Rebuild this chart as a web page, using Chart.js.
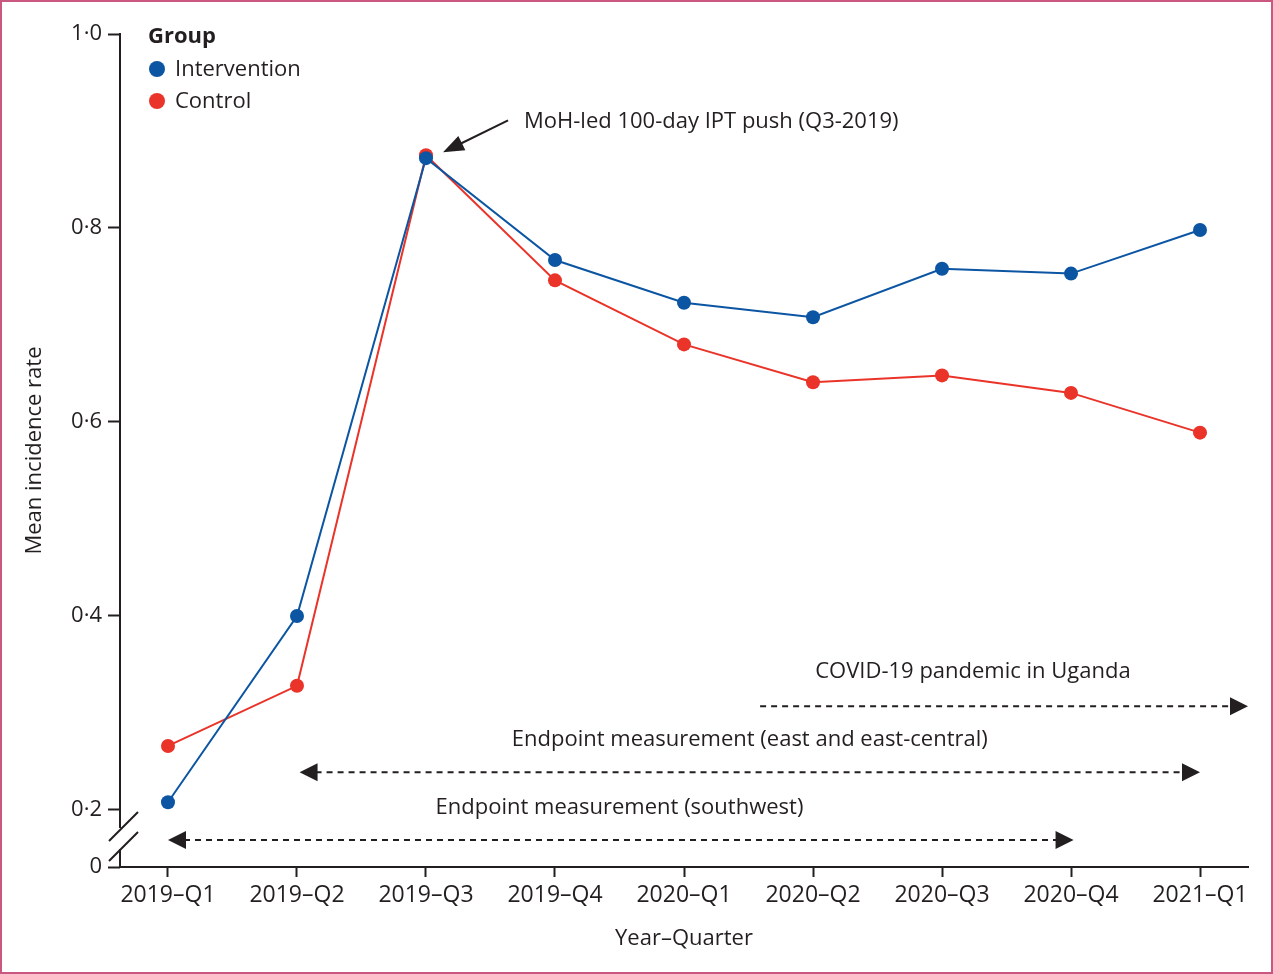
<!DOCTYPE html>
<html>
<head>
<meta charset="utf-8">
<script src="https://cdn.jsdelivr.net/npm/chart.js@4.4.1/dist/chart.umd.min.js"></script>
<style>
    html, body { margin: 0; padding: 0; background: #fff; }
    #wrap { position: relative; width: 1273px; height: 974px; }
    #wrap canvas { position: absolute; left: 0; top: 0; }
    #frame { position: absolute; inset: 0; border: 2px solid #c9577f; pointer-events: none; }
</style>
</head>
<body>
<div id="wrap">
    <canvas id="chart" width="1273" height="974"></canvas>
    <div id="frame"></div>
</div>
<script>
const quarters = ['2019–Q1', '2019–Q2', '2019–Q3', '2019–Q4', '2020–Q1', '2020–Q2', '2020–Q3', '2020–Q4', '2021–Q1'];
const intervention = [0.208, 0.400, 0.872, 0.767, 0.723, 0.708, 0.758, 0.753, 0.798];
const control = [0.266, 0.328, 0.875, 0.746, 0.680, 0.641, 0.648, 0.630, 0.589];
const yTicks = [0.2, 0.4, 0.6, 0.8, 1.0];

// axis is broken below 0.2; the bottom of the axis stands for 0
const Y_MIN = 0.1412;
const Y_MAX = 1.0;
const X_MIN = -0.372;
const X_MAX = 8.372;

// annotations, in data units (x = quarter index)
const spanArrows = [
    { from: 4.59, to: X_MAX, y: 0.307, startHead: false, endHead: true },
    { from: 1.02, to: 8.0, y: 0.239, startHead: true, endHead: true },
    { from: 0.0, to: 7.02, y: 0.169, startHead: true, endHead: true }
];
const spanLabels = [
    { text: 'COVID-19 pandemic in Uganda', x: 6.24, y: 0.342 },
    { text: 'Endpoint measurement (east and east-central)', x: 4.51, y: 0.272 },
    { text: 'Endpoint measurement (southwest)', x: 3.5, y: 0.202 }
];
const pushNote = { text: 'MoH-led 100-day IPT push (Q3-2019)', x: 2.76, y: 0.910, tailX: 2.636, tailY: 0.911, tipX: 2.132, tipY: 0.878 };

const INK = '#231f20';
const BLUE = '#0b55a3';
const RED = '#ea3329';
const FONT = '"Open Sans", sans-serif';

function fmt(v) {
    return v.toFixed(1).replace('.', '·');
}

function arrowHead(ctx, x, y, dir, len, half) {
    ctx.beginPath();
    ctx.moveTo(x, y);
    ctx.lineTo(x - dir * len, y - half);
    ctx.lineTo(x - dir * len, y + half);
    ctx.closePath();
    ctx.fill();
}

const extras = {
    id: 'extras',
    afterDraw(chart) {
        const ctx = chart.ctx;
        const xs = chart.scales.x;
        const ys = chart.scales.y;
        const area = chart.chartArea;
        ctx.save();
        ctx.strokeStyle = INK;
        ctx.fillStyle = INK;
        ctx.lineWidth = 2;

        // y axis with break
        const ax = area.left;
        const p02 = ys.getPixelForValue(0.2);
        ctx.beginPath();
        ctx.moveTo(ax, area.top - 1);
        ctx.lineTo(ax, p02 + 18);
        ctx.moveTo(ax, p02 + 39);
        ctx.lineTo(ax, area.bottom);
        ctx.stroke();
        ctx.beginPath();
        ctx.moveTo(ax - 11, p02 + 31);
        ctx.lineTo(ax + 18, p02 + 2);
        ctx.moveTo(ax - 11, p02 + 51);
        ctx.lineTo(ax + 18, p02 + 22);
        ctx.stroke();

        // dashed span arrows
        spanArrows.forEach(s => {
            const x1 = xs.getPixelForValue(s.from);
            const x2 = xs.getPixelForValue(s.to);
            const y = ys.getPixelForValue(s.y);
            ctx.setLineDash([6, 5]);
            ctx.beginPath();
            ctx.moveTo(x1 + (s.startHead ? 16 : 0), y);
            ctx.lineTo(x2 - (s.endHead ? 16 : 0), y);
            ctx.stroke();
            ctx.setLineDash([]);
            if (s.startHead) arrowHead(ctx, x1, y, -1, 18, 9);
            if (s.endHead) arrowHead(ctx, x2, y, 1, 18, 9);
        });

        ctx.font = '22px ' + FONT;
        ctx.textBaseline = 'middle';
        ctx.textAlign = 'center';
        spanLabels.forEach(l => {
            ctx.fillText(l.text, xs.getPixelForValue(l.x), ys.getPixelForValue(l.y));
        });

        // push annotation
        const tx = xs.getPixelForValue(pushNote.tailX), ty = ys.getPixelForValue(pushNote.tailY);
        const hx = xs.getPixelForValue(pushNote.tipX), hy = ys.getPixelForValue(pushNote.tipY);
        const ang = Math.atan2(hy - ty, hx - tx);
        ctx.beginPath();
        ctx.moveTo(tx, ty);
        ctx.lineTo(hx - Math.cos(ang) * 16, hy - Math.sin(ang) * 16);
        ctx.stroke();
        ctx.save();
        ctx.translate(hx, hy);
        ctx.rotate(ang);
        arrowHead(ctx, 0, 0, 1, 21, 8);
        ctx.restore();
        ctx.textAlign = 'left';
        ctx.fillText(pushNote.text, xs.getPixelForValue(pushNote.x), ys.getPixelForValue(pushNote.y));

        // legend
        const lx = area.left + 28;
        ctx.font = 'bold 22px ' + FONT;
        ctx.fillText('Group', lx, area.top + 3);
        ctx.font = '22px ' + FONT;
        chart.data.datasets.forEach((ds, i) => {
            const cy = area.top + 35 + i * 32;
            ctx.fillStyle = ds.backgroundColor;
            ctx.beginPath();
            ctx.arc(lx + 9, cy, 8, 0, Math.PI * 2);
            ctx.fill();
            ctx.fillStyle = INK;
            ctx.fillText(ds.label, lx + 27, cy + 1);
        });
        ctx.restore();
    }
};

new Chart(document.getElementById('chart'), {
    type: 'line',
    data: {
        datasets: [
            {
                label: 'Intervention',
                data: intervention.map((v, i) => ({ x: i, y: v })),
                borderColor: BLUE,
                backgroundColor: BLUE,
                borderWidth: 2,
                pointRadius: 7,
                pointBorderWidth: 0,
                tension: 0
            },
            {
                label: 'Control',
                data: control.map((v, i) => ({ x: i, y: v })),
                borderColor: RED,
                backgroundColor: RED,
                borderWidth: 2,
                pointRadius: 7,
                pointBorderWidth: 0,
                tension: 0
            }
        ]
    },
    options: {
        responsive: false,
        animation: false,
        layout: { padding: { top: 34, right: 25, left: 0, bottom: 0 } },
        plugins: {
            legend: { display: false },
            tooltip: { enabled: false }
        },
        scales: {
            x: {
                type: 'linear',
                min: X_MIN,
                max: X_MAX,
                afterBuildTicks: scale => {
                    scale.ticks = quarters.map((q, i) => ({ value: i }));
                },
                afterFit: scale => { scale.height = 107; },
                ticks: {
                    autoSkip: false,
                    maxRotation: 0,
                    color: INK,
                    font: { family: FONT, size: 23 },
                    padding: 5,
                    callback: v => quarters[v] ?? ''
                },
                grid: { drawOnChartArea: false, drawTicks: true, tickLength: 10, tickWidth: 2, tickColor: INK },
                border: { display: true, color: INK, width: 2 },
                title: {
                    display: true,
                    text: 'Year–Quarter',
                    color: INK,
                    font: { family: FONT, size: 22 },
                    padding: { top: 0, bottom: 22 }
                }
            },
            y: {
                type: 'linear',
                min: Y_MIN,
                max: Y_MAX,
                afterBuildTicks: scale => {
                    scale.ticks = [{ value: Y_MIN }].concat(yTicks.map(v => ({ value: v })));
                },
                afterFit: scale => { scale.width = 120; },
                ticks: {
                    color: INK,
                    font: { family: FONT, size: 22 },
                    padding: 6,
                    callback: v => (v === Y_MIN ? '0' : fmt(v))
                },
                grid: { drawOnChartArea: false, drawTicks: true, tickLength: 12, tickWidth: 2, tickColor: INK },
                border: { display: false },
                title: {
                    display: true,
                    text: 'Mean incidence rate',
                    color: INK,
                    font: { family: FONT, size: 22 },
                    padding: { top: 22, bottom: 0 }
                }
            }
        }
    },
    plugins: [extras]
});
</script>
</body>
</html>
